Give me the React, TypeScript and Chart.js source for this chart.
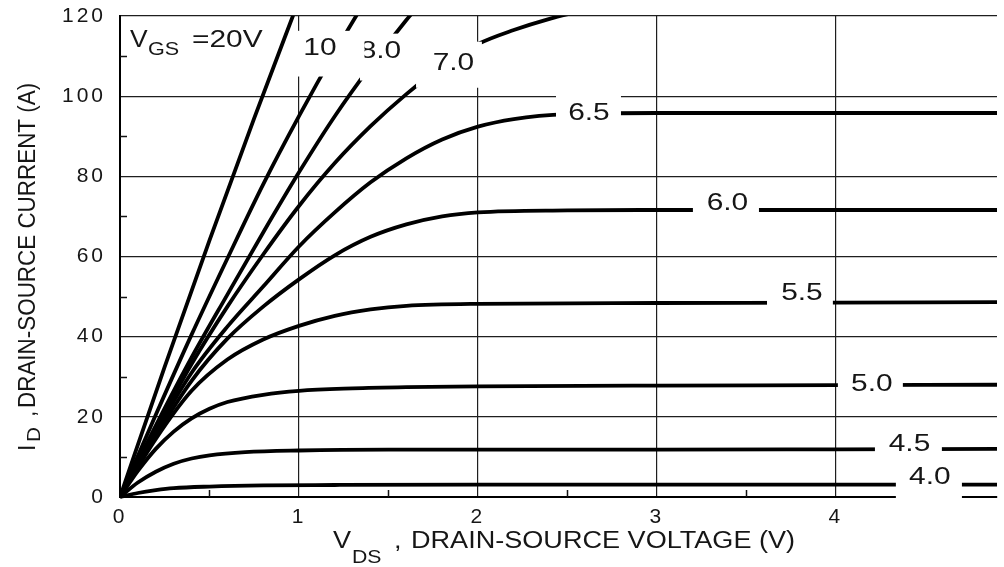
import React, { useEffect, useRef } from 'react';
import { Chart, registerables } from 'chart.js';

Chart.register(...registerables);

// ---- axis ranges / ticks ----
const VDS_MIN = 0;
const VDS_MAX = 4.9;
const VDS_STEP = 1;
const ID_MIN = 0;
const ID_MAX = 120;
const ID_STEP = 20;
const VDS_MINOR = [0.5, 1.5, 2.5, 3.5, 4.5];
const ID_MINOR = [10, 30, 50, 70, 90, 110];

// ---- output characteristic curves (V_DS in volts, I_D in amps) ----
const vgs20V = [0, 0.25, 0.5, 0.75, 1.0];
const vgs20I = [0, 32.5, 64, 94.5, 124];

const vgs10V = [0, 0.2, 0.4, 0.6, 0.8, 1.0, 1.2, 1.4];
const vgs10I = [0, 20.5, 40.5, 59.5, 78, 95, 111, 126];

const vgs8V = [0, 0.2, 0.4, 0.6, 0.8, 1.0, 1.2, 1.4, 1.6, 1.8];
const vgs8I = [0, 17.8, 34.8, 50.5, 66, 81, 95, 107.5, 119, 129.5];

const vgs7V = [0, 0.2, 0.4, 0.6, 0.8, 1.0, 1.2, 1.4, 1.6, 1.8, 2.0, 2.2, 2.4, 2.6];
const vgs7I = [0, 17, 33.2, 47.5, 60.5, 72.6, 83.3, 92.5, 100.5, 107.5, 113, 116.5, 119.3, 121.5];

const vgs65V = [0, 0.2, 0.4, 0.6, 0.8, 1.0, 1.2, 1.4, 1.6, 1.8, 2.0, 2.2, 2.5, 3.0, 4.0, 4.9];
const vgs65I = [0, 16.2, 31, 42.5, 52.5, 62.5, 71, 78.5, 84.5, 89.2, 92.4, 94.3, 95.5, 95.8, 95.8, 95.8];

const vgs6V = [0, 0.2, 0.4, 0.6, 0.8, 1.0, 1.2, 1.4, 1.6, 1.8, 2.0, 2.5, 3.0, 4.0, 4.9];
const vgs6I = [0, 15.3, 29, 39.5, 47.5, 54.3, 60.3, 64.9, 68, 70, 71, 71.5, 71.6, 71.6, 71.6];

const vgs55V = [0, 0.2, 0.4, 0.6, 0.8, 1.0, 1.2, 1.4, 1.6, 2.0, 3.0, 4.0, 4.9];
const vgs55I = [0, 14.5, 26.5, 34.3, 39.3, 42.7, 45.2, 46.8, 47.7, 48.2, 48.4, 48.5, 48.6];

const vgs5V = [0, 0.1, 0.2, 0.3, 0.4, 0.5, 0.6, 0.8, 1.0, 1.3, 1.6, 2.0, 3.0, 4.0, 4.9];
const vgs5I = [0, 6.5, 12, 16.3, 19.6, 22, 23.7, 25.5, 26.5, 27.1, 27.4, 27.6, 27.8, 27.9, 28];

const vgs45V = [0, 0.1, 0.2, 0.3, 0.4, 0.5, 0.7, 1.0, 1.5, 2.0, 3.0, 4.0, 4.9];
const vgs45I = [0, 3.6, 6.3, 8.3, 9.6, 10.4, 11.2, 11.6, 11.8, 11.8, 11.8, 11.9, 12.0];

const vgs4V = [0, 0.1, 0.2, 0.3, 0.5, 0.8, 1.2, 2.0, 3.0, 4.9];
const vgs4I = [0, 1.0, 1.7, 2.2, 2.6, 2.9, 3.0, 3.1, 3.1, 3.1];

const SERIES_NAMES = ['20V', '10', '8.0', '7.0', '6.5', '6.0', '5.5', '5.0', '4.5', '4.0'];
const SERIES_V = [vgs20V, vgs10V, vgs8V, vgs7V, vgs65V, vgs6V, vgs55V, vgs5V, vgs45V, vgs4V];
const SERIES_I = [vgs20I, vgs10I, vgs8I, vgs7I, vgs65I, vgs6I, vgs55I, vgs5I, vgs45I, vgs4I];

// ---- curve labels (drawing order), anchored in data coordinates ----
const LABEL_TEXT = ['8.0', '10', '7.0', '6.5', '6.0', '5.5', '5.0', '4.5', '4.0'];
const LABEL_POS = [
  [1.455, 111.5], [1.117, 112.2], [1.863, 108.6], [2.62, 96.0], [3.394, 73.7],
  [3.81, 51.2], [4.201, 28.6], [4.411, 13.5], [4.525, 5.3],
];
const LABEL_BOX = [
  [1.341, 1.598, 115.6, 103.9], [0.961, 1.366, 116.3, 104.9], [1.654, 2.022, 113.6, 102.1],
  [2.436, 2.799, 101.6, 92.6], [3.201, 3.57, 77.7, 69.2], [3.615, 3.983, 55.2, 46.7],
  [4.011, 4.374, 32.3, 24.8], [4.218, 4.592, 17.0, 9.8], [4.335, 4.704, 9.06, -0.92],
];
const VGS_POS = [0.056, 112.3];

const FONT = '"Liberation Sans", Arial, Helvetica, sans-serif';
const TEXT_COLOR = '#161616';

function drawText(
  ctx: CanvasRenderingContext2D, s: string, x: number, y: number, size: number,
  sx = 1, align: CanvasTextAlign = 'left', rotate = 0,
) {
  ctx.save();
  ctx.translate(x, y);
  if (rotate) ctx.rotate(rotate);
  ctx.scale(sx, 1);
  ctx.font = `${size}px ${FONT}`;
  ctx.textAlign = align;
  ctx.textBaseline = 'alphabetic';
  ctx.fillStyle = TEXT_COLOR;
  (ctx as any).letterSpacing = '0px';
  ctx.fillText(s, 0, 0);
  ctx.restore();
}

const decorPlugin = {
  id: 'mosfetDecor',
  beforeDraw(chart: any) {
    (chart.ctx as any).letterSpacing = '3px';
  },
  afterDatasetsDraw(chart: any) {
    const ctx: CanvasRenderingContext2D = chart.ctx;
    const xs = chart.scales.x;
    const ys = chart.scales.y;
    const area = chart.chartArea;
    ctx.save();
    (ctx as any).letterSpacing = '0px';
    // minor ticks pointing inwards
    ctx.strokeStyle = '#111';
    ctx.lineWidth = 1.5;
    ctx.beginPath();
    ID_MINOR.forEach((v) => {
      const py = Math.round(ys.getPixelForValue(v)) + 0.5;
      ctx.moveTo(area.left, py);
      ctx.lineTo(area.left + 7, py);
    });
    VDS_MINOR.forEach((v) => {
      const px = Math.round(xs.getPixelForValue(v)) + 0.5;
      ctx.moveTo(px, area.bottom);
      ctx.lineTo(px, area.bottom - 7);
    });
    ctx.stroke();

    // labels with white backgrounds
    LABEL_TEXT.forEach((t, k) => {
      const [v1, v2, a1, a2] = LABEL_BOX[k];
      const x1 = xs.getPixelForValue(v1);
      const x2 = xs.getPixelForValue(v2);
      const y1 = ys.getPixelForValue(a1);
      const y2 = ys.getPixelForValue(a2);
      ctx.fillStyle = '#ffffff';
      ctx.fillRect(x1, y1, x2 - x1, y2 - y1);
      const [pv, pa] = LABEL_POS[k];
      drawText(ctx, t, xs.getPixelForValue(pv), ys.getPixelForValue(pa) + 8.2, 23, 1.3, 'center');
    });

    // V_GS = 20V label
    const gx = xs.getPixelForValue(VGS_POS[0]);
    const gy = ys.getPixelForValue(VGS_POS[1]);
    drawText(ctx, 'V', gx, gy, 23, 1.15);
    drawText(ctx, 'GS', gx + 18, gy + 8, 18, 1.2);
    drawText(ctx, '=20V', gx + 62, gy, 23, 1.3);
    ctx.restore();
  },
  afterDraw(chart: any) {
    const ctx: CanvasRenderingContext2D = chart.ctx;
    (ctx as any).letterSpacing = '0px';
    // x axis title
    drawText(ctx, 'V', 333, 548, 23, 1.18);
    drawText(ctx, 'DS', 352, 563, 18, 1.18);
    drawText(ctx, ',', 394, 548, 23, 1.18);
    drawText(ctx, 'DRAIN-SOURCE VOLTAGE (V)', 411, 548, 23, 1.177);
    // y axis title (rotated)
    const rot = -Math.PI / 2;
    drawText(ctx, 'I', 35, 451, 23, 1, 'left', rot);
    drawText(ctx, 'D', 40, 442, 18, 1.15, 'left', rot);
    drawText(ctx, ',', 35, 417, 23, 1, 'left', rot);
    drawText(ctx, 'DRAIN-SOURCE CURRENT (A)', 35, 408, 23, 0.975, 'left', rot);
  },
};

export default function App() {
  const canvasRef = useRef<HTMLCanvasElement | null>(null);

  useEffect(() => {
    const canvas = canvasRef.current;
    if (!canvas) return;
    const datasets = SERIES_NAMES.map((name, s) => ({
      label: name,
      data: SERIES_V[s].map((v, k) => ({ x: v, y: SERIES_I[s][k] })),
      borderColor: '#000',
      backgroundColor: '#000',
      borderWidth: 3.8,
      pointRadius: 0,
      fill: false,
      cubicInterpolationMode: 'monotone' as const,
      clip: { left: 0, top: 0, right: 2, bottom: 2 },
    }));

    const tickFont = { family: FONT, size: 21 };
    const chart = new Chart(canvas, {
      type: 'line',
      data: { datasets },
      options: {
        animation: false,
        responsive: false,
        events: [],
        layout: { padding: { left: 0, right: 7, top: 16, bottom: 0 } },
        plugins: { legend: { display: false }, tooltip: { enabled: false }, title: { display: false } },
        scales: {
          x: {
            type: 'linear',
            min: VDS_MIN,
            max: VDS_MAX,
            grid: { color: '#1e1e1e', lineWidth: 1.2, drawTicks: false },
            border: { color: '#000', width: 2 },
            ticks: {
              stepSize: VDS_STEP,
              includeBounds: false,
              padding: 8,
              color: TEXT_COLOR,
              font: tickFont,
              maxRotation: 0,
              autoSkip: false,
            },
            afterFit: (scale: any) => {
              scale.height = 70;
              scale.paddingLeft = 0;
              scale.paddingRight = 0;
            },
          },
          y: {
            type: 'linear',
            min: ID_MIN,
            max: ID_MAX,
            grid: { color: '#1e1e1e', lineWidth: 1.2, drawTicks: false },
            border: { color: '#000', width: 2 },
            ticks: {
              stepSize: ID_STEP,
              includeBounds: false,
              padding: 14,
              color: TEXT_COLOR,
              font: tickFont,
            },
            afterFit: (scale: any) => {
              scale.width = 120;
              scale.paddingTop = 0;
              scale.paddingBottom = 0;
            },
          },
        },
      },
      plugins: [decorPlugin],
    });
    return () => chart.destroy();
  }, []);

  return (
    <div style={{ position: 'fixed', left: 0, top: 0, width: 1004, height: 567, background: '#fff' }}>
      <canvas ref={canvasRef} width={1004} height={567} style={{ width: 1004, height: 567, display: 'block' }} />
    </div>
  );
}
